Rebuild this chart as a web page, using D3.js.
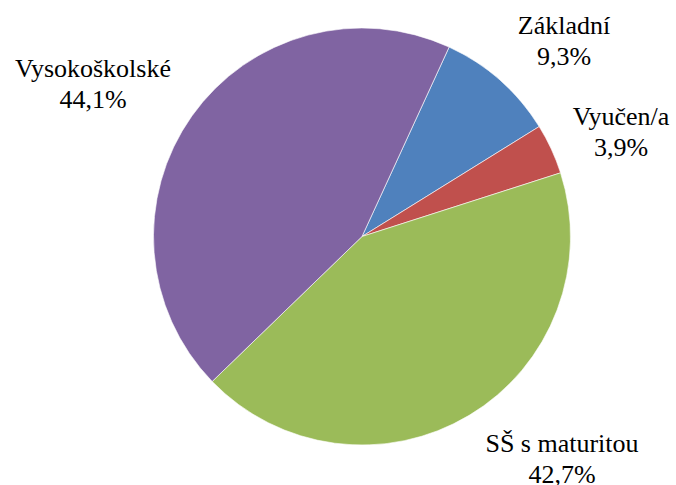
<!DOCTYPE html>
<html>
<head>
<meta charset="utf-8">
<script src="https://cdn.jsdelivr.net/npm/d3@7"></script>
<style>
  body { margin: 0; background: #fff; }
</style>
</head>
<body>
<svg id="chart" width="676" height="485"></svg>
<script>
// Data
var categories = ['Základní', 'Vyučen/a', 'SŠ s maturitou', 'Vysokoškolské'];
var shares = [9.3, 3.9, 42.7, 44.1];
var colors = ['#4F81BD', '#C0504D', '#9BBB59', '#8064A2'];
// label anchor (centre of text block), by category
var labelX = [564, 621, 562, 93];
var labelY = [34, 125, 452, 77];

var cx = 362, cy = 236.5, radius = 208.5;
var startDeg = 24.7;

var svg = d3.select('#chart');

var pie = d3.pie()
	.sort(null)
	.startAngle(startDeg * Math.PI / 180)
	.endAngle((startDeg + 360) * Math.PI / 180);

var arc = d3.arc().innerRadius(0).outerRadius(radius);

var slices = pie(shares);

var g = svg.append('g').attr('transform', 'translate(' + cx + ',' + cy + ')');

g.selectAll('path')
	.data(slices)
	.enter()
	.append('path')
	.attr('d', arc)
	.style('fill', function(d, i) { return colors[i]; })
	.style('stroke', '#ffffff')
	.style('stroke-width', 0.6);

// Labels
var labels = svg.selectAll('.label')
	.data(categories)
	.enter()
	.append('text')
	.attr('class', 'label')
	.style('font-family', '"Times New Roman", "Liberation Serif", Tinos, "DejaVu Serif", serif')
	.style('font-size', '26px')
	.style('fill', '#000')
	.attr('text-anchor', 'middle');

labels.append('tspan')
	.attr('x', function(d, i) { return labelX[i]; })
	.attr('y', function(d, i) { return labelY[i]; })
	.text(function(d) { return d; });

labels.append('tspan')
	.attr('x', function(d, i) { return labelX[i]; })
	.attr('y', function(d, i) { return labelY[i] + 31; })
	.text(function(d, i) { return String(shares[i].toFixed(1)).replace('.', ',') + '%'; });
</script>
</body>
</html>
